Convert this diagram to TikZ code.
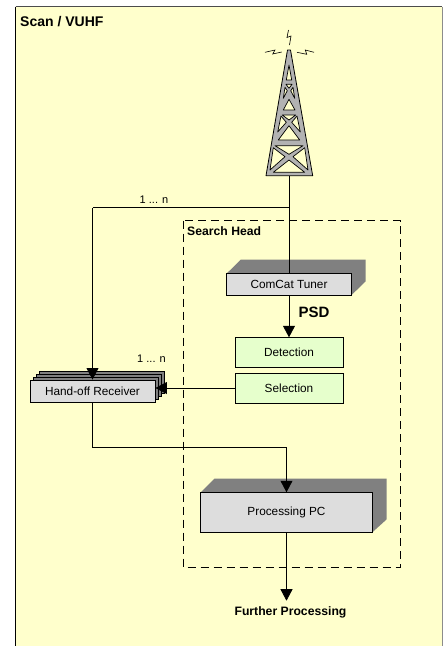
\documentclass[tikz,border=0pt]{standalone}
\usepackage{fontspec}
\setmainfont{Liberation Sans}
\usetikzlibrary{arrows.meta}
\definecolor{panel}{HTML}{FFFFCC}
\definecolor{boxg}{HTML}{DDDDDD}
\definecolor{sideg}{HTML}{808080}
\definecolor{greenb}{HTML}{E6FFCC}
\definecolor{towerg}{HTML}{B2B2B2}
\tikzset{
 x=1pt,y=-1pt,
 wire/.style={draw=black,line width=0.8pt},
 arr/.style={wire,-{Triangle[length=11.5pt,width=12pt]}},
 box3d/.style={draw=black,fill=boxg,line width=0.9pt,inner sep=0pt,font=\fontsize{11.8}{14}\selectfont},
 greenbox/.style={draw=black,fill=greenb,line width=0.8pt,inner sep=0pt,font=\fontsize{11.8}{14}\selectfont},
 lab/.style={inner sep=0pt,font=\fontsize{11}{14}\selectfont},
 blab/.style={inner sep=0pt,font=\bfseries\fontsize{12.2}{14}\selectfont},
 hole/.style={fill=panel,draw=black,line width=0.7pt,line join=round},
 bolt/.style={draw=black,line width=0.6pt},
}
\begin{document}
\begin{tikzpicture}
\useasboundingbox (0,0) rectangle (443,646);
\fill[white] (0,0) rectangle (443,646);
\fill[panel] (15.5,6.5) rectangle (442,646);
\draw[line width=1pt,black!70] (15.5,6.5) -- (442,6.5);
\draw[line width=1pt] (15.5,6.5) -- (15.5,646);
\draw[line width=0.6pt,black!45] (442,6.5) -- (442,646);
\node[anchor=west,inner sep=0pt,font=\bfseries\fontsize{14}{16}\selectfont] (title) at (20,21.7) {Scan / VUHF};
% tower
\filldraw[fill=towerg,draw=black,line width=0.8pt,line join=round] (287.5,50) -- (290.5,50) -- (312.7,175.7) -- (266,175.7) -- cycle;
\filldraw[hole] (289,65) -- (286.3,80) -- (291.7,80) -- cycle;
\filldraw[hole] (286,84.3) -- (292,84.3) -- (289,88.3) -- cycle;
\filldraw[hole] (285,87.3) -- (287.3,90.7) -- (283.3,98.3) -- cycle;
\filldraw[hole] (293,87.3) -- (290.7,90.7) -- (294.7,98.3) -- cycle;
\filldraw[hole] (283.3,110) -- (295,110) -- (289,99.3) -- cycle;
\filldraw[hole] (282.3,115) -- (295.7,115) -- (289,120) -- cycle;
\filldraw[hole] (281,116) -- (286.3,122.3) -- (277.7,132) -- cycle;
\filldraw[hole] (297,116) -- (291.7,122.3) -- (300.3,132) -- cycle;
\filldraw[hole] (278.3,140) -- (299.7,140) -- (289,125.7) -- cycle;
\filldraw[hole] (275,145.7) -- (303,145.7) -- (289,154.3) -- cycle;
\filldraw[hole] (273.3,147.7) -- (285,156.7) -- (270,170) -- cycle;
\filldraw[hole] (304.7,147.7) -- (293,156.7) -- (308,170) -- cycle;
\filldraw[hole] (273.3,172.3) -- (304.7,172.3) -- (289,160) -- cycle;
\draw[bolt] (288.5,30) -- (287,37.5) -- (291,36) -- (289.5,45);
\draw[bolt] (265,52.3) -- (275,50) -- (272.7,54) -- (281.7,52);
\draw[bolt] (297,52.3) -- (306.7,54.3) -- (305.3,50) -- (314,52.3);
\coordinate (towerbase) at (289,175.7);
% search head
\draw[dash pattern=on 8pt off 5pt,line width=0.8pt] (183,220.5) rectangle (400.3,567);
\node[blab,anchor=west] (sh) at (187,230.7) {Search Head};
% ComCat tuner
\fill[sideg] (226.5,273.7) -- (240.7,259.7) -- (365.7,259.7) -- (365.7,281.3) -- (351.3,295.3) -- (351.3,273.7) -- cycle;
\node[box3d,minimum width=125pt,minimum height=21.6pt] (tuner) at (289,284.5) {ComCat Tuner};
\node[greenbox,minimum width=108pt,minimum height=30pt] (det) at (289,352.7) {Detection};
\node[greenbox,minimum width=108pt,minimum height=30pt] (sel) at (289,388) {Selection};
% receiver stack
\foreach \d in {3,2,1}{
 \filldraw[fill=sideg,draw=black,line width=0.6pt] (30+3*\d,380-3*\d) rectangle (155+3*\d,402-3*\d);
}
\node[box3d,minimum width=125pt,minimum height=22pt] (recv) at (92.5,391) {Hand-off Receiver};
% PC
\fill[sideg] (200.5,492.7) -- (214.3,478.7) -- (386.7,478.7) -- (386.7,519.3) -- (372.7,532) -- (372.7,492.7) -- cycle;
\node[box3d,minimum width=172.4pt,minimum height=39.4pt] (pc) at (286.5,512.4) {Processing PC};
\node[blab] (fp) at (290.5,612) {Further Processing};
% connectors
\coordinate (tap) at (289,207.7);
\coordinate (tapl) at (92.5,207.7);
\draw[wire] (towerbase) -- (tuner.north);
\draw[wire] (tap) -- (tapl);
\draw[arr] (tapl) -- (recv.north);
\node[lab] (n1) at (154,200) {1 ... n};
\node[lab] (n2) at (151.5,359) {1 ... n};
\draw[arr] (sel.west) -- (recv.east |- sel.west);
\draw[arr] (tuner.south) -- (det.north);
\node[inner sep=0pt,font=\bfseries\fontsize{15}{17}\selectfont] (psd) at (314,312.7) {PSD};
\coordinate (elbow) at (92.5,447.3);
\coordinate (pcin) at (286.5,447.3);
\coordinate (fpin) at (286.5,600.7);
\draw[wire] (recv.south) -- (elbow) -- (pcin);
\draw[arr] (pcin) -- (pc.north);
\draw[arr] (pc.south) -- (fpin);
\end{tikzpicture}
\end{document}
